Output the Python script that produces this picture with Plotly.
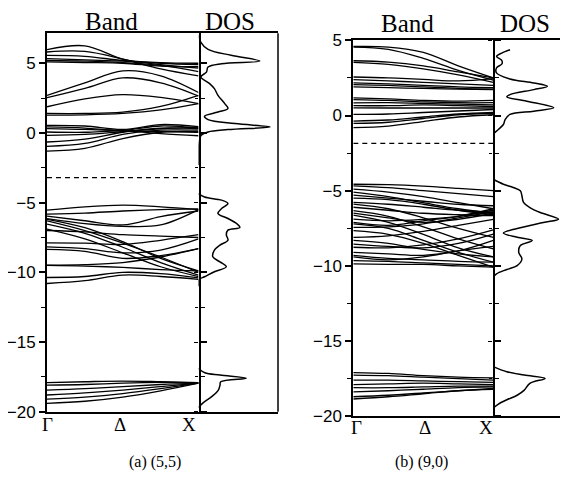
import plotly.graph_objects as go

# page body adds an 8px margin around the figure; compensate for it
OFF = 8
W, H = 568 - OFF, 487 - OFF

# ---------------- data ----------------
k_pts = [0.0, 0.25, 0.5, 0.75, 1.0]

# (a) (5,5) band energies (eV) at k_pts
bands_a = [
    [5.98, 6.25, 5.3, 4.9, 4.65],
    [5.81, 5.85, 5.3, 4.6, 4.1],
    [5.57, 5.5, 5.2, 5.05, 5.0],
    [5.33, 5.25, 5.15, 5.0, 4.9],
    [5.2, 5.15, 5.05, 4.85, 4.4],
    [5.1, 5.05, 5.0, 4.8, 4.75],
    [2.7, 3.6, 4.45, 4.1, 2.9],
    [2.53, 3.2, 3.95, 3.6, 2.65],
    [1.88, 2.45, 2.75, 2.55, 2.1],
    [1.40, 1.40, 1.5, 1.9, 2.7],
    [1.28, 1.3, 1.4, 1.65, 2.1],
    [0.54, 0.5, 0.25, 0.6, 0.45],
    [0.43, 0.35, 0.2, 0.5, 0.35],
    [0.31, 0.25, 0.15, 0.1, 0.05],
    [0.07, 0.05, 0.15, -0.05, -0.2],
    [-0.17, -0.1, 0.1, 0.3, 0.4],
    [-0.65, -0.45, 0.05, 0.35, 0.3],
    [-0.96, -0.75, -0.1, 0.2, 0.2],
    [-1.3, -1.1, -0.4, 0.05, 0.1],
    [-5.54, -5.3, -5.18, -5.3, -5.5],
    [-5.83, -5.75, -5.6, -5.5, -5.45],
    [-5.97, -6.3, -6.6, -6.0, -5.6],
    [-6.14, -6.5, -6.7, -6.6, -5.5],
    [-6.2, -6.8, -7.8, -9.0, -9.9],
    [-6.3, -7.0, -7.9, -8.9, -10.0],
    [-6.54, -7.2, -8.2, -9.3, -10.2],
    [-6.9, -7.6, -8.6, -9.6, -10.3],
    [-7.0, -7.1, -7.3, -7.4, -7.5],
    [-7.88, -7.9, -8.0, -7.7, -7.3],
    [-8.17, -8.3, -8.6, -8.4, -7.6],
    [-8.36, -8.5, -9.0, -8.8, -8.3],
    [-9.49, -9.45, -9.3, -8.9, -8.3],
    [-9.5, -9.55, -9.65, -9.8, -9.9],
    [-10.37, -10.3, -10.0, -10.1, -10.4],
    [-10.8, -10.6, -10.2, -10.3, -10.5],
    [-17.92, -17.85, -17.8, -17.85, -17.92],
    [-18.1, -18.05, -17.95, -17.9, -17.92],
    [-18.45, -18.35, -18.2, -18.05, -17.95],
    [-18.8, -18.65, -18.45, -18.2, -17.95],
    [-19.1, -18.95, -18.7, -18.35, -17.95],
    [-19.4, -19.25, -18.95, -18.5, -17.95],
]

# (b) (9,0) band energies (eV) at k_pts
bands_b = [
    [4.59, 4.55, 4.2, 3.3, 2.5],
    [4.55, 4.4, 3.8, 3.0, 2.35],
    [3.64, 3.55, 3.3, 2.9, 2.5],
    [3.53, 3.4, 3.1, 2.7, 2.2],
    [2.56, 2.5, 2.4, 2.3, 2.45],
    [2.38, 2.3, 2.2, 2.1, 2.0],
    [2.17, 2.1, 2.0, 1.9, 1.85],
    [2.05, 2.0, 1.9, 1.8, 1.75],
    [1.9, 1.85, 1.8, 1.75, 1.73],
    [1.17, 1.1, 1.0, 0.95, 1.0],
    [1.06, 1.0, 0.9, 0.85, 0.85],
    [0.84, 0.85, 0.8, 0.75, 0.7],
    [0.66, 0.65, 0.7, 0.65, 0.6],
    [0.51, 0.5, 0.5, 0.5, 0.5],
    [0.07, 0.1, 0.2, 0.3, 0.4],
    [-0.37, -0.3, -0.1, 0.1, 0.2],
    [-0.53, -0.45, -0.2, 0.05, 0.15],
    [-0.81, -0.7, -0.4, -0.1, 0.05],
    [-4.57, -4.6, -4.7, -4.85, -5.0],
    [-4.68, -4.8, -5.0, -5.2, -5.4],
    [-4.9, -5.1, -5.4, -5.8, -6.2],
    [-5.1, -5.4, -5.8, -6.2, -6.5],
    [-5.3, -5.5, -5.7, -5.9, -6.0],
    [-5.5, -5.6, -5.9, -6.3, -6.6],
    [-5.78, -5.9, -6.1, -6.3, -6.45],
    [-5.89, -6.2, -6.8, -7.5, -8.1],
    [-6.1, -6.3, -6.5, -6.6, -6.66],
    [-6.33, -6.7, -7.4, -8.2, -8.87],
    [-6.49, -6.8, -7.1, -6.9, -6.5],
    [-6.62, -7.1, -7.9, -8.8, -9.4],
    [-6.89, -7.0, -6.9, -6.7, -6.3],
    [-7.1, -7.3, -7.0, -6.7, -6.2],
    [-7.2, -7.5, -8.3, -9.1, -9.75],
    [-7.44, -7.4, -7.2, -6.8, -6.4],
    [-7.66, -7.9, -8.5, -9.3, -10.08],
    [-8.1, -8.0, -7.7, -7.3, -6.9],
    [-8.3, -8.5, -8.9, -9.2, -9.4],
    [-8.55, -8.7, -8.8, -8.5, -7.88],
    [-8.76, -8.8, -8.6, -8.2, -7.6],
    [-9.1, -9.2, -9.3, -9.0, -8.3],
    [-9.3, -9.5, -9.6, -9.7, -9.75],
    [-9.4, -9.6, -9.4, -9.0, -8.7],
    [-9.65, -9.7, -9.8, -9.9, -10.0],
    [-9.87, -9.9, -9.9, -10.0, -10.08],
    [-17.09, -17.15, -17.3, -17.4, -17.45],
    [-17.26, -17.3, -17.4, -17.5, -17.6],
    [-17.6, -17.6, -17.65, -17.7, -17.75],
    [-17.9, -17.85, -17.8, -17.85, -17.9],
    [-18.1, -18.1, -18.05, -18.0, -18.0],
    [-18.37, -18.3, -18.2, -18.1, -18.05],
    [-18.7, -18.6, -18.45, -18.3, -18.15],
    [-18.85, -18.7, -18.5, -18.3, -18.2],
]

# Fermi-level (dashed) energies
fermi_a = -3.2
fermi_b = -1.85

# DOS (a): segments of (energy, dos)
dos_a_E = [
    [7.36, 6.9, 6.5, 6.0, 5.57, 5.16, 4.97, 4.73, 4.37, 4.02, 3.54, 3.18, 2.7, 2.1, 1.75,
     1.5, 1.2, 0.96, 0.67, 0.43, 0.24, 0.07, -0.17, -0.52, -1.24, -2.3],
    [-4.35, -4.6, -4.82, -5.06, -5.42, -5.78, -6.14, -6.5, -6.78, -6.97, -7.3, -7.7, -8.05,
     -8.41, -8.89, -9.25, -9.6, -9.96, -10.32, -10.5, -11.0],
    [-16.9, -17.2, -17.37, -17.6, -17.85, -18.1, -18.45, -18.9, -19.4, -19.7],
]
dos_a_D = [
    [0.03, 0.01, 0.03, 0.12, 0.41, 0.77, 0.29, 0.12, 0.1, 0.03, 0.14, 0.2, 0.245, 0.33, 0.37,
     0.245, 0.076, 0.12, 0.46, 0.9, 0.37, 0.12, 0.034, 0.013, 0.0, 0.0],
    [0.0, 0.076, 0.29, 0.37, 0.29, 0.245, 0.37, 0.48, 0.52, 0.37, 0.35, 0.37, 0.27,
     0.2, 0.18, 0.27, 0.35, 0.2, 0.076, 0.01, 0.0],
    [0.0, 0.08, 0.27, 0.6, 0.28, 0.27, 0.25, 0.17, 0.05, 0.0],
]

# DOS (b)
dos_b_E = [
    [4.37, 4.15, 3.93, 3.66, 3.44, 3.16, 2.83, 2.43, 2.16, 1.94, 1.72, 1.39, 1.24, 0.95,
     0.51, 0.29, 0.07, -0.26, -0.6, -0.93, -1.26, -1.5],
    [-4.24, -4.57, -4.79, -5.01, -5.34, -5.78, -6.12, -6.45, -6.89, -7.11, -7.51, -7.82,
     -8.1, -8.32, -8.65, -9.1, -9.54, -9.98, -10.24, -10.53, -10.75],
    [-16.7, -17.04, -17.26, -17.48, -17.81, -18.26, -18.6, -18.9, -19.2, -19.45],
]
dos_b_D = [
    [0.21, 0.106, 0.042, 0.106, 0.11, 0.04, 0.04, 0.21, 0.51, 0.68, 0.51, 0.21, 0.17, 0.42,
     0.76, 0.51, 0.21, 0.15, 0.127, 0.063, 0.0, 0.0],
    [0.0, 0.127, 0.25, 0.34, 0.36, 0.38, 0.46, 0.59, 0.82, 0.63, 0.3, 0.127,
     0.3, 0.49, 0.34, 0.32, 0.36, 0.3, 0.17, 0.04, 0.0],
    [0.0, 0.17, 0.39, 0.65, 0.46, 0.39, 0.3, 0.17, 0.06, 0.0],
]

k_labels = ["Γ", "Δ", "X"]
k_label_pos_a = [0.0, 0.48, 0.94]
k_label_pos_b = [0.026, 0.51, 0.95]
y_range_a = [-20, 7.15]
y_range_b = [-20, 5]

# ---------------- layout geometry (window pixels) ----------------
def px_x(x):
    return (x - OFF) / W

def px_y(y):
    return 1 - (y - OFF) / H

ax_a_left, ax_a_mid, ax_a_right = 47, 198.5, 278
ax_a_top, ax_a_bot = 33.3, 411.7
ax_b_left, ax_b_mid, ax_b_right = 353.3, 493.3, 568
ax_b_top, ax_b_bot = 40.3, 416.3

fig = go.Figure()

band_line = dict(color="black", width=1.3)
dos_line = dict(color="black", width=1.5)

for b in bands_a:
    fig.add_trace(go.Scatter(x=k_pts, y=b, mode="lines", line=dict(band_line, shape="spline"),
                             xaxis="x", yaxis="y", showlegend=False, hoverinfo="skip"))
for b in bands_b:
    fig.add_trace(go.Scatter(x=k_pts, y=b, mode="lines", line=dict(band_line, shape="spline"),
                             xaxis="x3", yaxis="y3", showlegend=False, hoverinfo="skip"))

fig.add_trace(go.Scatter(x=[0, 1], y=[fermi_a, fermi_a], mode="lines",
                         line=dict(color="black", width=1.3, dash="5px,4px"),
                         xaxis="x", yaxis="y", showlegend=False, hoverinfo="skip"))
fig.add_trace(go.Scatter(x=[0, 1], y=[fermi_b, fermi_b], mode="lines",
                         line=dict(color="black", width=1.3, dash="5px,4px"),
                         xaxis="x3", yaxis="y3", showlegend=False, hoverinfo="skip"))

for E, D in zip(dos_a_E, dos_a_D):
    fig.add_trace(go.Scatter(x=D, y=E, mode="lines", line=dict(dos_line, shape="spline"),
                             xaxis="x2", yaxis="y2", showlegend=False, hoverinfo="skip"))
for E, D in zip(dos_b_E, dos_b_D):
    fig.add_trace(go.Scatter(x=D, y=E, mode="lines", line=dict(dos_line, shape="spline"),
                             xaxis="x4", yaxis="y4", showlegend=False, hoverinfo="skip"))

tickfont = dict(family="Liberation Sans, Arial, sans-serif", size=17, color="black")

def band_yaxis(domain, rng, anchor):
    return dict(domain=domain, range=rng, showline=True, linecolor="black", linewidth=2,
                mirror="ticks", ticks="outside", ticklen=6, tickwidth=1.5, tickcolor="black",
                tickmode="linear", tick0=0, dtick=5, tickfont=tickfont, showgrid=False,
                zeroline=False, automargin=False, anchor=anchor, fixedrange=True,
                minor=dict(ticks="outside", ticklen=4, tickwidth=1.2, tickcolor="black",
                           tickmode="linear", tick0=0, dtick=2.5, showgrid=False))

def dos_yaxis(domain, rng, anchor):
    return dict(domain=domain, range=rng, showline=False, ticks="outside", ticklen=4,
                tickwidth=1.2, tickcolor="black", tickmode="linear", tick0=0, dtick=5,
                showticklabels=False, showgrid=False, zeroline=False, anchor=anchor,
                automargin=False, fixedrange=True,
                minor=dict(ticks="outside", ticklen=3, tickwidth=1, tickcolor="black",
                           tickmode="linear", tick0=0, dtick=2.5, showgrid=False))

def plain_xaxis(domain, rng, anchor, lw=1.5):
    return dict(domain=domain, range=rng, showline=True, linecolor="black", linewidth=lw,
                mirror=True, ticks="", showticklabels=False, showgrid=False, zeroline=False,
                anchor=anchor, fixedrange=True, automargin=False)

dom_y_a = [px_y(ax_a_bot), px_y(ax_a_top)]
dom_y_b = [px_y(ax_b_bot), px_y(ax_b_top)]

fig.update_layout(
    template="none",
    width=W, height=H, margin=dict(l=0, r=0, t=0, b=0, autoexpand=False),
    paper_bgcolor="white", plot_bgcolor="rgba(0,0,0,0)",
    xaxis=plain_xaxis([px_x(ax_a_left), px_x(ax_a_mid)], [0, 1], "y", lw=2),
    yaxis=band_yaxis(dom_y_a, y_range_a, "x"),
    xaxis2=plain_xaxis([px_x(ax_a_mid), px_x(ax_a_right)], [0, 1], "y2"),
    yaxis2=dos_yaxis(dom_y_a, y_range_a, "x2"),
    xaxis3=plain_xaxis([px_x(ax_b_left), px_x(ax_b_mid)], [0, 1], "y3", lw=2),
    yaxis3=band_yaxis(dom_y_b, y_range_b, "x3"),
    xaxis4=plain_xaxis([px_x(ax_b_mid), 1.0], [0, (ax_b_right - ax_b_mid) / 79.5], "y4"),
    yaxis4=dos_yaxis(dom_y_b, y_range_b, "x4"),
    shapes=[dict(type="line", xref="paper", yref="paper",
                 x0=px_x(ax_a_right), x1=px_x(ax_a_right),
                 y0=px_y(ax_a_bot), y1=px_y(ax_a_top),
                 line=dict(color="black", width=1.5))],
)

serif = "Liberation Serif, Times New Roman, serif"
ann = []
def add_text(text, x, y, size, family=serif):
    ann.append(dict(text=text, x=px_x(x), y=px_y(y), xref="paper", yref="paper",
                    showarrow=False, xanchor="center", yanchor="middle",
                    font=dict(family=family, size=size, color="black")))

add_text("Band", 111, 22, 25)
add_text("DOS", 230, 22, 25)
add_text("Band", 407, 24, 25)
add_text("DOS", 525, 24, 25)

for lab, kx in zip(k_labels, k_label_pos_a):
    ann.append(dict(text=lab, x=kx, y=px_y(424), xref="x", yref="paper", showarrow=False,
                    xanchor="center", yanchor="middle",
                    font=dict(family=serif, size=19, color="black")))
for lab, kx in zip(k_labels, k_label_pos_b):
    ann.append(dict(text=lab, x=kx, y=px_y(427), xref="x3", yref="paper", showarrow=False,
                    xanchor="center", yanchor="middle",
                    font=dict(family=serif, size=19, color="black")))

add_text("(a) (5,5)", 155, 462, 16)
add_text("(b) (9,0)", 421, 462, 16)

fig.update_layout(annotations=ann)

fig.write_html("out.html")
